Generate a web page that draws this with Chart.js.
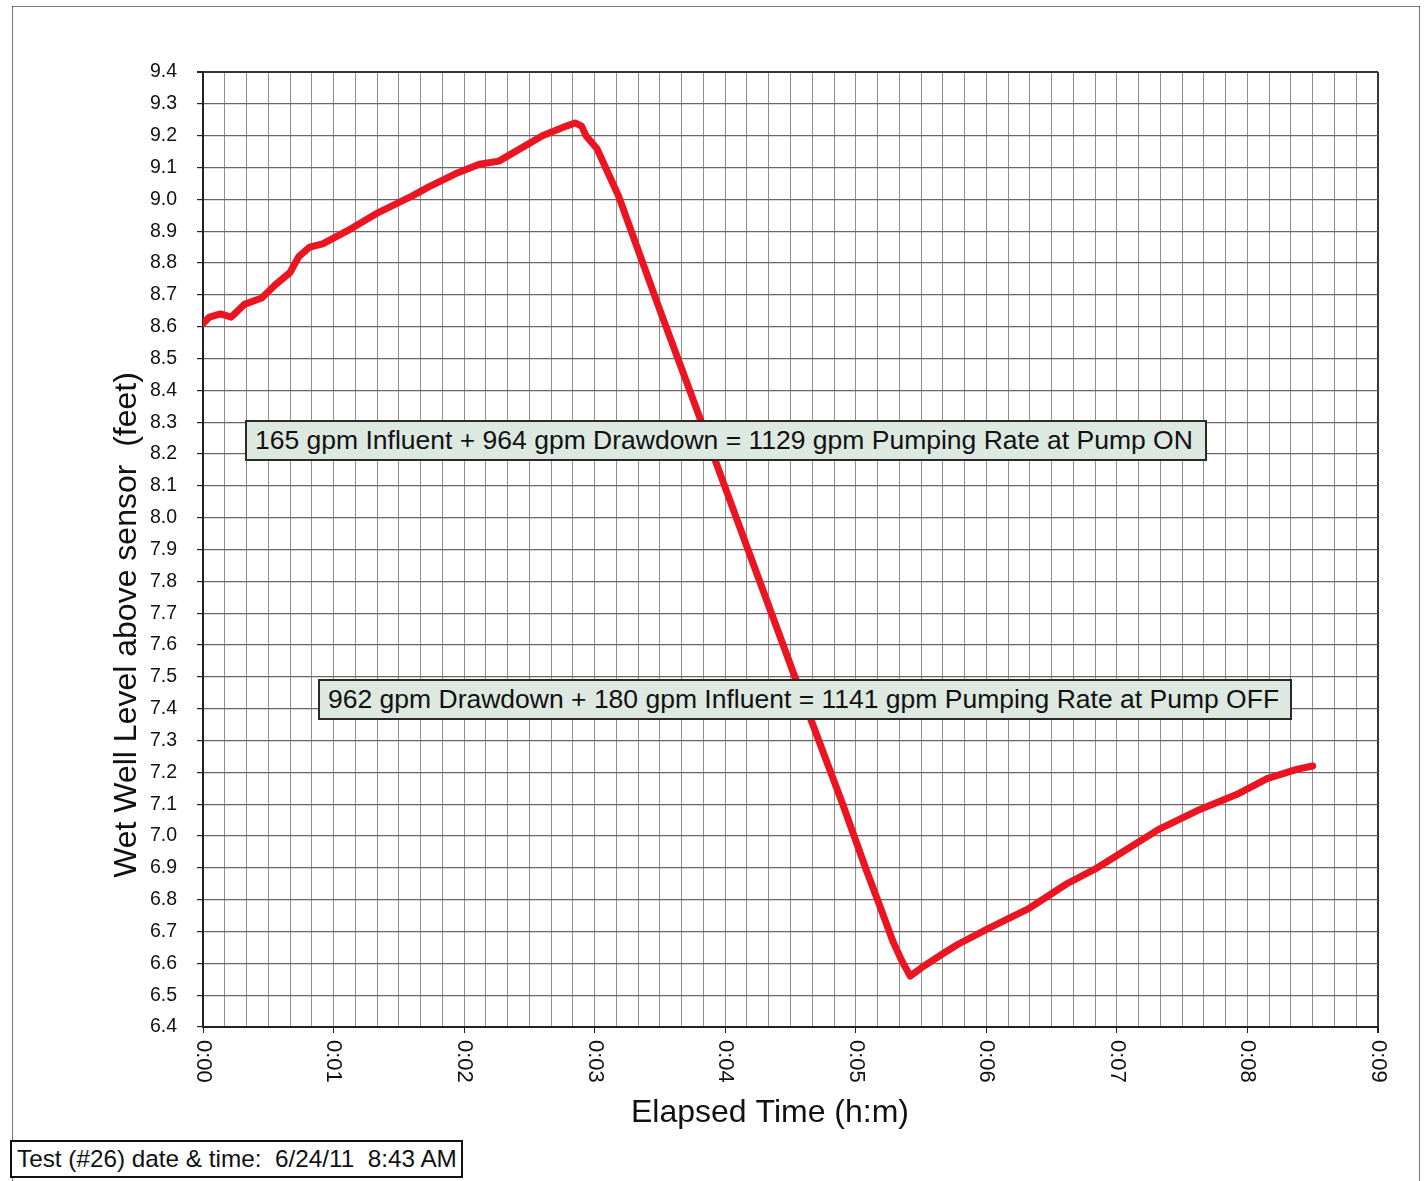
<!DOCTYPE html>
<html>
<head>
<meta charset="utf-8">
<script src="https://cdn.jsdelivr.net/npm/chart.js@4/dist/chart.umd.min.js"></script>
<style>
  body { margin: 0; background: #fff; overflow: hidden; }
  #wrap { position: relative; width: 1425px; height: 1181px; }
  #frame { position: absolute; left: 12px; top: 6px; width: 1406px; height: 1190px; border: 1.5px solid #7a7474; pointer-events: none; }
  .note { position: absolute; box-sizing: border-box; background: #dde8e1; border: 2px solid #2a2a2a;
          font: 26.5px "Liberation Sans", Arial, sans-serif; color: #111; white-space: pre; padding-left: 8px; line-height: 37px; }
  #stamp { position: absolute; left: 10px; top: 1140px; width: 453px; height: 38px; box-sizing: border-box;
           background: #fff; border: 2px solid #111; font: 24.3px "Liberation Sans", Arial, sans-serif; color: #111;
           white-space: pre; padding-left: 5px; line-height: 34px; }
</style>
</head>
<body>
<div id="wrap">
  <canvas id="chart" width="1425" height="1181"></canvas>
  <div id="frame"></div>
  <div class="note" style="left:245px; top:420px; width:962px; height:41px;">165 gpm Influent + 964 gpm Drawdown = 1129 gpm Pumping Rate at Pump ON</div>
  <div class="note" style="left:318px; top:679px; width:974px; height:41px;">962 gpm Drawdown + 180 gpm Influent = 1141 gpm Pumping Rate at Pump OFF</div>
  <div id="stamp">Test (#26) date &amp; time:  6/24/11  8:43 AM</div>
</div>
<script>
// elapsed seconds and wet well level (feet)
const elapsedSec = [0, 3, 8, 13, 19, 27, 33, 40, 44, 49, 55, 66, 81, 96, 104, 116, 127, 136, 156, 167, 171,
  174, 176, 181, 185, 191, 200, 209, 228, 237, 251, 272, 283, 294, 305, 310, 317, 321, 325,
  331, 340, 347, 361, 379, 397, 411, 425, 439, 457, 475, 489, 503, 510];
const levelFt = [8.61, 8.63, 8.64, 8.63, 8.67, 8.69, 8.73, 8.77, 8.82, 8.85, 8.86, 8.90, 8.96, 9.01, 9.04, 9.08, 9.11, 9.12, 9.20, 9.23, 9.24,
  9.23, 9.20, 9.16, 9.10, 9.01, 8.84, 8.67, 8.32, 8.15, 7.89, 7.50, 7.30, 7.10, 6.89, 6.80, 6.67, 6.61, 6.56,
  6.59, 6.63, 6.66, 6.71, 6.77, 6.85, 6.90, 6.96, 7.02, 7.08, 7.13, 7.18, 7.21, 7.22];

// x axis tick labels (one per minute)
const minuteTicks = [0, 60, 120, 180, 240, 300, 360, 420, 480, 540];
const minuteLabels = ["0:00", "0:01", "0:02", "0:03", "0:04", "0:05", "0:06", "0:07", "0:08", "0:09"];

const yTitle = "Wet Well Level above sensor  (feet)";
const xTitle = "Elapsed Time (h:m)";

const FONT = '"Liberation Sans", Arial, sans-serif';

const points = elapsedSec.map((s, i) => ({ x: s, y: levelFt[i] }));

// draws the rotated minute labels and both axis titles
const axisText = {
  id: "axisText",
  afterDraw(chart) {
    const ctx = chart.ctx;
    const xs = chart.scales.x;
    const area = chart.chartArea;
    ctx.save();
    ctx.fillStyle = "#111";
    ctx.font = "22px " + FONT;
    ctx.textAlign = "left";
    ctx.textBaseline = "middle";
    minuteTicks.forEach((t, i) => {
      const px = xs.getPixelForValue(t);
      ctx.save();
      ctx.translate(px, area.bottom + 13);
      ctx.rotate(Math.PI / 2);
      ctx.fillText(minuteLabels[i], 0, 0);
      ctx.restore();
    });

    ctx.font = "32px " + FONT;
    ctx.textAlign = "center";
    ctx.fillText(xTitle, 770, 1113);

    ctx.translate(127, 625);
    ctx.rotate(-Math.PI / 2);
    ctx.fillText(yTitle, 0, 0);
    ctx.restore();
  }
};

new Chart(document.getElementById("chart"), {
  type: "line",
  data: {
    datasets: [{
      data: points,
      borderColor: "#ea1520",
      borderWidth: 7,
      pointRadius: 0,
      tension: 0,
      borderCapStyle: "round",
      borderJoinStyle: "round",
      fill: false
    }]
  },
  options: {
    responsive: false,
    animation: false,
    layout: { padding: { left: 0, top: 72, right: 47, bottom: 0 } },
    plugins: { legend: { display: false }, tooltip: { enabled: false } },
    scales: {
      x: {
        type: "linear",
        min: 0,
        max: 540,
        afterFit: (s) => { s.height = 154; },
        ticks: { stepSize: 10, display: false, autoSkip: false },
        grid: {
          color: (c) => (c.tick && c.tick.value === 540 ? "#3a3434" : "#948b8b"),
          lineWidth: (c) => (c.tick && c.tick.value === 540 ? 2 : 1),
          tickLength: 6,
          tickColor: (c) => (c.tick && c.tick.value % 60 === 0 ? "#222" : "rgba(0,0,0,0)")
        },
        border: { color: "#222", width: 2 }
      },
      y: {
        min: 6.4,
        max: 9.4,
        afterFit: (s) => { s.width = 203; },
        ticks: {
          stepSize: 0.1,
          autoSkip: false,
          padding: 20,
          color: "#111",
          font: { family: FONT, size: 19.5 },
          callback: (v) => v.toFixed(1)
        },
        grid: {
          color: (c) => (c.tick && Math.abs(c.tick.value - 9.4) < 1e-6 ? "#3a3434" : "#6e6464"),
          lineWidth: (c) => (c.tick && Math.abs(c.tick.value - 9.4) < 1e-6 ? 2 : 1.2),
          tickLength: 6,
          tickColor: "#222"
        },
        border: { color: "#222", width: 2 }
      }
    }
  },
  plugins: [axisText]
});
</script>
</body>
</html>
